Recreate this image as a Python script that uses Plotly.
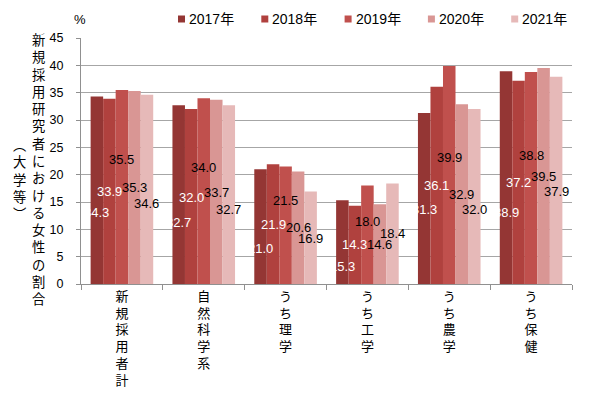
import plotly.graph_objects as go

categories = ["新規採用者計", "自然科学系", "うち理学", "うち工学", "うち農学", "うち保健"]
years = ["2017年", "2018年", "2019年", "2020年", "2021年"]
v2017 = [34.3, 32.7, 21.0, 15.3, 31.3, 38.9]
v2018 = [33.9, 32.0, 21.9, 14.3, 36.1, 37.2]
v2019 = [35.5, 34.0, 21.5, 18.0, 39.9, 38.8]
v2020 = [35.3, 33.7, 20.6, 14.6, 32.9, 39.5]
v2021 = [34.6, 32.7, 16.9, 18.4, 32.0, 37.9]
series = [v2017, v2018, v2019, v2020, v2021]
y_ticks = [0, 5, 10, 15, 20, 25, 30, 35, 40, 45]

# label placement heights (as in the original, labels sit inside bars at varying heights)
label_y = [
    [13.1, 11.2, 6.5, 3.2, 13.6, 13.1],
    [16.9, 15.9, 10.8, 7.2, 18.0, 18.5],
    [22.8, 21.4, 15.3, 11.4, 23.2, 23.5],
    [17.7, 16.8, 10.3, 7.3, 16.3, 19.7],
    [14.7, 13.7, 8.4, 9.2, 13.6, 16.9],
]

colors = ["#943634", "#B0413E", "#C0504D", "#D99694", "#E6B9B8"]
label_colors = ["white", "white", "black", "black", "black"]
FONT = "Liberation Sans, Arial, Noto Sans CJK JP, sans-serif"
CJK = "Noto Sans CJK JP, sans-serif"
BARGAP = 0.235

# page has an 8px body margin; work in page pixels and convert
OFF = 8
W, H = 600 - OFF, 397 - OFF
plot_l, plot_r, plot_t, plot_b = 81, 572, 38, 284   # page pixels
ml, mt = plot_l - OFF, plot_t - OFF
mr, mb = W - (plot_r - OFF), H - (plot_b - OFF)
pw, ph = W - ml - mr, H - mt - mb


def px(xp):
    return (xp - OFF - ml) / pw


def py(yp):
    return 1 - (yp - OFF - mt) / ph


fig = go.Figure()
for i, (yr, vals) in enumerate(zip(years, series)):
    fig.add_trace(go.Bar(
        x=categories, y=vals, name=yr,
        marker=dict(color=colors[i], line=dict(width=0)),
        hoverinfo="x+y+name", showlegend=False,
    ))

bw = (1 - BARGAP) / len(years)
for i, vals in enumerate(series):
    for j, v in enumerate(vals):
        fig.add_annotation(
            x=j + (i - 2) * bw, y=label_y[i][j], xref="x", yref="y",
            text=f"{v:.1f}", showarrow=False,
            font=dict(family=FONT, size=13, color=label_colors[i]),
        )

# legend (small squares + text, laid out like the original)
LEG_X0, LEG_PITCH, LEG_Y = 178, 83.3, 19
for i, yr in enumerate(years):
    sx = LEG_X0 + i * LEG_PITCH
    fig.add_shape(
        type="rect", xref="paper", yref="paper",
        x0=px(sx), x1=px(sx + 7), y0=py(LEG_Y - 3.5), y1=py(LEG_Y + 3.5),
        fillcolor=colors[i], line=dict(width=0),
    )
    fig.add_annotation(
        x=px(sx + 9), y=py(LEG_Y), xref="paper", yref="paper",
        xanchor="left", yanchor="middle", text=yr, showarrow=False,
        font=dict(family=FONT, size=14, color="black"),
    )

# vertical y-axis title
title_main = "新規採用研究者における女性の割合"
fig.add_annotation(
    x=px(38), y=py(28), xref="paper", yref="paper", xanchor="center", yanchor="top",
    text="<br>".join(title_main), showarrow=False,
    font=dict(family=CJK, size=13.3, color="black"),
)
fig.add_annotation(
    x=px(19), y=py(133), xref="paper", yref="paper", xanchor="center", yanchor="top",
    text="<br>".join("︵大学等︶"), showarrow=False,
    font=dict(family=CJK, size=13.3, color="black"),
)
fig.add_annotation(
    x=px(80), y=py(19), xref="paper", yref="paper", xanchor="center", yanchor="middle",
    text="%", showarrow=False,
    font=dict(family=FONT, size=13, color="black"),
)

fig.update_layout(
    width=W, height=H, autosize=False,
    margin=dict(l=ml, r=mr, t=mt, b=mb, autoexpand=False),
    paper_bgcolor="white", plot_bgcolor="white",
    barmode="group", bargap=BARGAP, bargroupgap=0,
    font=dict(family=FONT, size=13, color="black"),
    showlegend=False,
    xaxis=dict(
        type="category",
        tickmode="array", tickvals=categories,
        ticktext=["<br>".join(c) for c in categories],
        tickfont=dict(family=CJK, size=13, color="black"),
        ticks="outside", ticklen=5, tickcolor="#909090", tickson="boundaries",
        showline=True, linecolor="#909090", linewidth=1,
        showgrid=False, tickangle=0,
    ),
    yaxis=dict(
        range=[0, 45], tickvals=y_ticks,
        tickfont=dict(family=FONT, size=12.5, color="black"),
        ticks="outside", ticklen=4, tickcolor="#909090",
        ticklabelstandoff=10,
        showline=True, linecolor="#909090", linewidth=1,
        showgrid=True, gridcolor="#A6A6A6", gridwidth=1,
        zeroline=False,
    ),
)

fig.write_html("out.html")
